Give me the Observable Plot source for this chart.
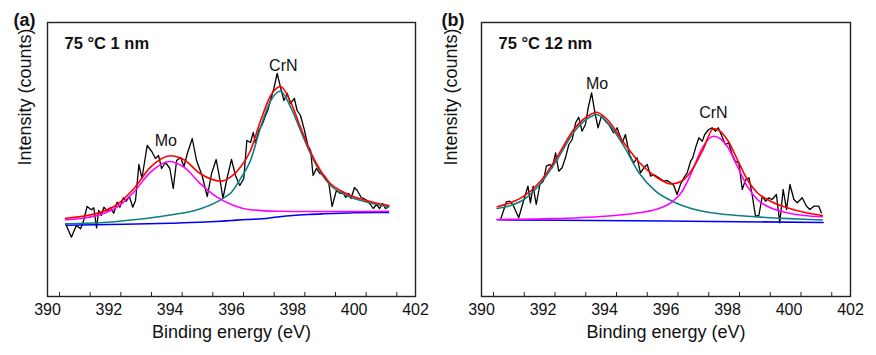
<!DOCTYPE html>
<html><head><meta charset="utf-8">
<script src="https://cdn.jsdelivr.net/npm/d3@7"></script>
<script src="https://cdn.jsdelivr.net/npm/@observablehq/plot@0.6"></script>
<style>
body{margin:0;background:#fff;}
#wrap{display:flex;width:876px;height:355px;overflow:hidden;}
</style></head><body><div id="wrap"></div>
<script>
// ---------- Panel (a): 75 °C 1 nm ----------
const rawA_E = [390.59,390.78,390.94,391.08,391.18,391.29,391.43,391.51,391.60,391.67,391.75,391.84,391.95,392.05,392.16,392.27,392.36,392.47,392.57,392.67,392.78,392.87,392.98,393.08,393.25,393.40,393.52,393.62,393.72,393.85,393.99,394.10,394.21,394.34,394.45,394.56,394.72,394.86,395.04,395.21,395.35,395.50,395.64,395.72,395.86,396.00,396.13,396.27,396.40,396.50,396.62,396.71,396.78,396.89,397.00,397.11,397.18,397.27,397.38,397.49,397.60,397.71,397.82,397.92,398.05,398.14,398.25,398.38,398.49,398.58,398.66,398.77,398.88,399.03,399.17,399.28,399.42,399.55,399.64,399.72,399.82,399.90,400.01,400.10,400.23,400.32,400.42,400.53,400.62,400.73,400.83,400.93,401.02,401.10];
const rawA_I = [72.7,59.3,71,67.7,76,90,86.7,88.7,68.7,86,81,89.3,85.3,88.7,83.3,94.3,89.3,98.7,95.3,100,89.3,96,132,118,151,145,138,141,128,134,128,108,136,139,130,143,158,136,121,100,123,137,114,98,119,137,121,111,118,156,154,164,153,166,172,181,186,196,208,223,209,196,203,193,198,186,181,166,151,146,121,128,123,121,114,90,106,103,104,99,103,98,109,106,99,98,96,92,88,92,88,93,88,89];
const bgA_E = [390.62,392,394,395.5,396,396.5,397,397.5,398,398.5,399,400,401.12];
const bgA_I = [71.3,72,73.3,75,76,77,77.7,79.5,81,82,82.7,83.7,84];
const moA_E = [390.59,391.2,391.73,392.27,392.81,393.36,393.96,394.45,394.99,395.53,396.07,396.62,397.5,398.5,400,401.12];
const moA_I = [76.7,78.5,82,89.3,104.3,124.3,135,129.3,112.7,99.3,91,86.7,85.3,85,85,85.3];
const crnA_E = [390.59,391.73,392.81,393.9,394.99,395.7,396.0,396.29,396.62,396.95,397.28,397.6,397.93,398.25,398.58,398.9,399.23,399.55,399.88,400.31,400.75,401.13];
const crnA_I = [72.7,73.7,76.7,81,87.7,97.7,104.3,117.7,136,169.3,196,205.3,189.3,166,142.7,124.3,111,104.3,99.3,95.3,92,90];
const sumA_E = [390.59,391.73,392.27,392.81,393.36,394.01,394.45,394.99,395.64,395.97,396.29,396.62,396.95,397.28,397.6,397.93,398.25,398.58,398.9,399.23,399.55,399.88,400.31,400.75,401.13];
const sumA_I = [78.3,84.3,92,107.7,129.3,140.7,136.7,122.7,115.3,119.3,129.3,146,176,201,210,194.3,169.3,144.3,126,112.7,106,101,96.7,93.3,91];

// ---------- Panel (b): 75 °C 12 nm ----------
const rawB_E = [390.62,390.81,390.92,391.03,391.21,391.38,391.51,391.59,391.68,391.78,391.90,392.01,392.11,392.22,392.30,392.41,392.51,392.62,392.73,392.84,392.95,393.06,393.16,393.27,393.38,393.47,393.58,393.69,393.79,393.90,394.03,394.14,394.30,394.41,394.58,394.68,394.81,394.95,395.06,395.17,395.28,395.39,395.50,395.60,395.77,395.93,396.04,396.15,396.25,396.36,396.47,396.58,396.69,396.80,396.87,396.96,397.07,397.18,397.26,397.39,397.50,397.61,397.70,397.77,397.93,398.04,398.15,398.26,398.37,398.48,398.59,398.70,398.80,398.91,399.02,399.13,399.24,399.34,399.45,399.59,399.70,399.81,399.92,400.03,400.16,400.27,400.43,400.57,400.68,400.81,400.97,401.05];
const rawB_I = [77,94.7,95.3,91.3,78.7,97,110.3,93.7,110.3,92,112,115.3,130.3,132,128.7,143.7,125.3,128.7,138.7,152,157,173.7,179.3,165.3,172,188.7,203.7,183.7,168.7,180.3,175.3,172,163.7,168.7,153.7,162,142,133.7,138.7,123.7,128.7,132,120.3,122,118.7,115.3,116,113.7,111.3,102,112,118.7,123.7,135.3,138.7,148.7,158.7,155.3,162,167,168.7,165.3,168.7,163.7,152,153.7,142,135.3,133.7,107,117,118.7,102,80.3,81,100.3,95.3,98.7,97,102,73.7,107,87,112,97,93.7,98.7,90.3,87,90.3,90.3,83.7];
const bgB_E = [390.51,396,401.11];
const bgB_I = [76.7,75.5,74];
const moB_E = [390.51,390.94,391.38,391.92,392.46,393.0,393.54,393.74,394.09,394.63,395.12,395.66,396.2,396.74,397.28,397.93,398.32,399.4,400.3,401.08];
const moB_I = [88,91,97,113,137,164.3,179.7,182,174.3,150.3,123.7,105.3,95.3,88.7,84.7,82,81,78.7,77.5,76.5];
const crnB_E = [390.51,392,394.03,395.12,395.66,396.2,396.53,396.85,397.18,397.55,397.99,398.32,398.64,398.97,399.4,399.94,400.48,401.08];
const crnB_I = [77,77.7,80.3,83.7,87,94.7,105.3,125.3,148.7,160.3,150.3,130.3,110.3,97,88.7,83.7,81,79.7];
const sumB_E = [390.51,390.94,391.38,391.92,392.46,393.0,393.54,393.74,394.09,394.63,395.15,395.68,396.17,396.55,396.85,397.18,397.55,397.99,398.32,398.64,398.97,399.4,399.94,400.48,401.08];
const sumB_I = [89.7,93.7,100.3,115.3,139.7,167,182,184.3,177,153.7,133.5,119.5,112.5,116,127,145.3,168,157,137,117,103.7,95.3,88.7,84.3,81];

// ---------- Shared text ----------
const tickLabels = [390,392,394,396,398,400,402];
const minorTicks = [390,391,392,393,394,395,396,397,398,399,400,401];
const peakNames = ["Mo","CrN"];
const peakPosA_E = [393.86,397.69], peakPosA_I = [151,226];
const peakPosB_E = [393.76,397.54], peakPosB_I = [208,179];

const pts = (xs, ys) => xs.map((x, i) => ({x, y: ys[i]}));
const FONT = "'Liberation Sans', Arial, Helvetica, sans-serif";

function panel(o) {
  const fitLine = (E, I, color) => Plot.line(pts(E, I), {x: "x", y: "y", stroke: color, strokeWidth: 1.6, curve: "monotone-x"});
  return Plot.plot({
    width: 438, height: 355,
    marginLeft: o.ml, marginRight: o.mr, marginTop: 22, marginBottom: 59,
    x: {domain: [390, 402]},
    y: {domain: [0, 274], axis: null},
    style: {fontFamily: FONT, fontSize: "16px", color: "#111", background: "#fff"},
    marks: [
      Plot.frame({stroke: "#222", strokeWidth: 1.4}),
      Plot.axisX({ticks: tickLabels, tickSize: 0, tickPadding: 7, fontSize: 16, label: null}),
      Plot.ruleX(minorTicks, {x: d => d, y1: 0, y2: 4, dx: 12, stroke: "#222", strokeWidth: 1}),
      Plot.text(["Binding energy (eV)"], {frameAnchor: "bottom", lineAnchor: "top", dy: 29, fontSize: 18, fill: "#111"}),
      Plot.text(["Intensity (counts)"], {frameAnchor: "left", rotate: -90, dx: o.ylabDx, dy: 6, fontSize: 18, fill: "#111"}),
      Plot.text([o.tag], {frameAnchor: "top-left", textAnchor: "start", lineAnchor: "top", dx: o.tagDx, dy: -9, fontSize: 18, fontWeight: "bold", fill: "#111"}),
      Plot.text([o.title], {frameAnchor: "top-left", textAnchor: "start", lineAnchor: "top", dx: 17, dy: 15, fontSize: 16.5, fontWeight: "bold", fill: "#111"}),
      Plot.line(pts(o.rawE, o.rawI), {x: "x", y: "y", stroke: "#000", strokeWidth: 1.3}),
      fitLine(o.bgE, o.bgI, "#0000ff"),
      fitLine(o.tealE, o.tealI, "#0e7f7f"),
      fitLine(o.magE, o.magI, "#ff00ff"),
      fitLine(o.sumE, o.sumI, "#ff0000"),
      Plot.text(peakNames, {x: (d, i) => o.lblE[i], y: (d, i) => o.lblI[i], text: d => d, lineAnchor: "bottom", fontSize: 16, fill: "#111"})
    ]
  });
}

const wrap = document.getElementById("wrap");
wrap.append(panel({
  ml: 47, mr: 23, tag: "(a)", tagDx: -34, ylabDx: -22, title: "75 °C 1 nm",
  rawE: rawA_E, rawI: rawA_I, bgE: bgA_E, bgI: bgA_I,
  tealE: crnA_E, tealI: crnA_I, magE: moA_E, magI: moA_I,
  sumE: sumA_E, sumI: sumA_I, lblE: peakPosA_E, lblI: peakPosA_I
}));
wrap.append(panel({
  ml: 43, mr: 26, tag: "(b)", tagDx: -40, ylabDx: -30, title: "75 °C 12 nm",
  rawE: rawB_E, rawI: rawB_I, bgE: bgB_E, bgI: bgB_I,
  tealE: moB_E, tealI: moB_I, magE: crnB_E, magI: crnB_I,
  sumE: sumB_E, sumI: sumB_I, lblE: peakPosB_E, lblI: peakPosB_I
}));
</script></body></html>
